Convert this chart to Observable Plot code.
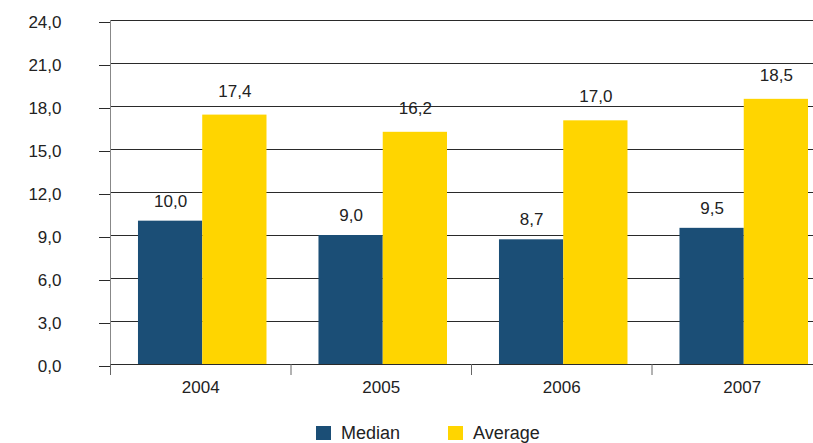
<!DOCTYPE html>
<html>
<head>
<meta charset="utf-8">
<script src="https://cdn.jsdelivr.net/npm/d3@7"></script>
<script src="https://cdn.jsdelivr.net/npm/@observablehq/plot@0.6"></script>
<style>
  html, body { margin: 0; padding: 0; background: #fff; }
  body { width: 813px; height: 443px; overflow: hidden; font-family: "Liberation Sans", Arial, sans-serif; color: #222; }
  #legend { display: flex; align-items: center; height: 26px; padding-left: 316px; font-size: 18px; }
  #legend .item { display: flex; align-items: center; }
  #legend .sw { width: 15px; height: 14px; margin-right: 10px; }
</style>
</head>
<body>
<div id="chart"></div>
<div id="legend"></div>
<script>
const years = [2004, 2005, 2006, 2007];
const series = ["Median", "Average"];
const medianValues = [10.0, 9.0, 8.7, 9.5];
const averageValues = [17.4, 16.2, 17.0, 18.5];
const colors = ["#1b4e76", "#ffd500"];
const yTicks = [0, 3, 6, 9, 12, 15, 18, 21, 24];

const data = [];
years.forEach((year, i) => {
  data.push({year, series: "Median", value: medianValues[i]});
  data.push({year, series: "Average", value: averageValues[i]});
});

// layout within each year band (fractions of one band)
const inset = 0.155, barW = 0.356;
const x1 = d => d.year - 0.5 + inset + series.indexOf(d.series) * barW;
const x2 = d => x1(d) + barW;
const xc = d => (x1(d) + x2(d)) / 2;
const boundaries = years.map(y => y - 0.5);
const fmt = v => v.toFixed(1).replace(".", ",");

const chart = Plot.plot({
  width: 813,
  height: 420,
  marginLeft: 110,
  marginRight: 0,
  marginTop: 20,
  marginBottom: 56,
  style: {fontFamily: "'Liberation Sans', Arial, sans-serif", fontSize: "17px", color: "#222", background: "#fff"},
  x: {type: "linear", domain: [2003.5, 2007.5], range: [110, 832], label: null},
  y: {domain: [0, 24], range: [364, 20], label: null},
  color: {domain: series, range: colors},
  marks: [
    Plot.ruleY(yTicks, {stroke: "#2a2a2a", strokeWidth: 1}),
    Plot.ruleX([boundaries[0]], {y1: 0, y2: 24, stroke: "#888"}),
    Plot.rectY(data, {x1, x2, y1: 0, y2: "value", fill: "series"}),
    Plot.text(data.filter(d => d.series === "Median"), {x: xc, y: "value", text: d => fmt(d.value), dy: -20, fontSize: 17, fill: "#222"}),
    Plot.text(data.filter(d => d.series === "Average"), {x: xc, y: "value", text: d => fmt(d.value), dy: -24, fontSize: 17, fill: "#222"}),
    Plot.axisY({ticks: yTicks, tickSize: 11, tickPadding: 38, tickFormat: fmt, stroke: "#2a2a2a", dy: 2, fontSize: 17, label: null}),
    Plot.axisX({ticks: boundaries, tickSize: 11, tickFormat: () => "", stroke: "#666", label: null}),
    Plot.axisX({ticks: years, tickSize: 0, tickPadding: 16, tickFormat: d => String(d), fontSize: 17, label: null})
  ]
});
document.getElementById("chart").appendChild(chart);

const legend = document.getElementById("legend");
series.forEach((s, i) => {
  const item = document.createElement("div");
  item.className = "item";
  if (i > 0) item.style.marginLeft = "48px";
  const sw = document.createElement("div");
  sw.className = "sw";
  sw.style.background = colors[i];
  const label = document.createElement("span");
  label.textContent = s;
  item.appendChild(sw);
  item.appendChild(label);
  legend.appendChild(item);
});
</script>
</body>
</html>
